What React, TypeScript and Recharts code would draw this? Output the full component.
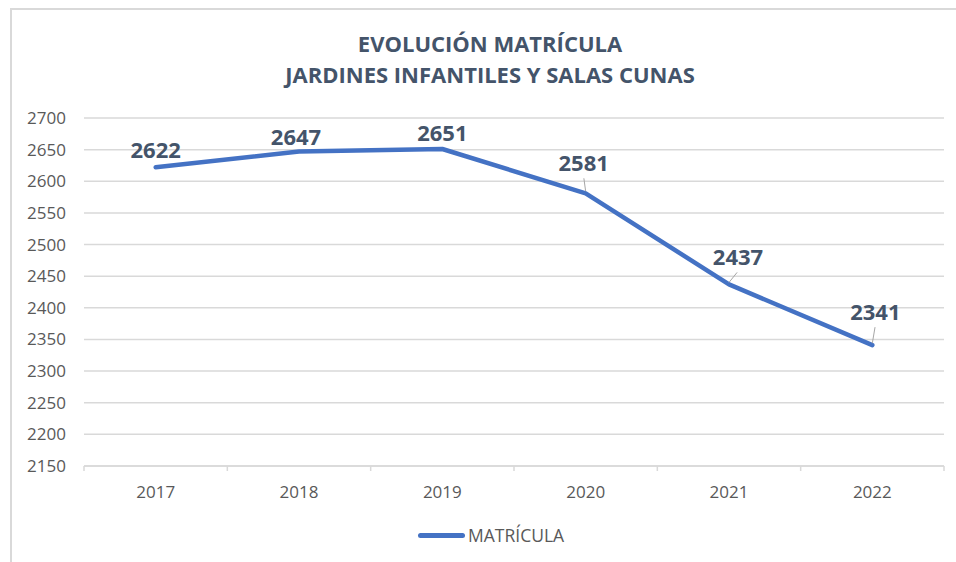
import { LineChart, Line, XAxis, YAxis, CartesianGrid, LabelList } from 'recharts';

// values
const years = ['2017', '2018', '2019', '2020', '2021', '2022'];
const matricula = [2622, 2647, 2651, 2581, 2437, 2341];
const yTicks = [2150, 2200, 2250, 2300, 2350, 2400, 2450, 2500, 2550, 2600, 2650, 2700];
const seriesName = 'MATRÍCULA';
const titleLines = ['EVOLUCIÓN MATRÍCULA', 'JARDINES INFANTILES Y SALAS CUNAS'];

const data = years.map((year, i) => ({ year, value: matricula[i] }));

// label placement tweaks (Excel moved some labels by hand)
const labelLift = [9, 7, 8, 22, 19, 25];
const labelShift = [0, -3, 0, -2, 9, 3];

const FONT = '"Open Sans", "Noto Sans", sans-serif';
const BLUE = '#4472c4';
const DARK = '#44546a';
const GREY = '#595959';
const RULE = '#d9d9d9';

const W = 956;
const H = 562;
const margin = { top: 118, right: 12, bottom: 66, left: 24 };
const Y_AXIS_W = 60;
const bandWidth = (W - margin.left - margin.right - Y_AXIS_W) / years.length;

function YearTick(props: any) {
  const { x, y, payload, index } = props;
  const half = bandWidth / 2;
  return (
    <g>
      <line x1={x - half} x2={x - half} y1={y} y2={y + 5} stroke={RULE} strokeWidth={1.5} />
      {index === years.length - 1 && (
        <line x1={x + half} x2={x + half} y1={y} y2={y + 5} stroke={RULE} strokeWidth={1.5} />
      )}
      <text x={x} y={y + 32} textAnchor="middle" fill={GREY} fontSize={17} fontFamily={FONT}>
        {payload.value}
      </text>
    </g>
  );
}

function ValueLabel(props: any) {
  const { x, y, value, index } = props;
  const lift = labelLift[index] ?? 10;
  const dx = labelShift[index] ?? 0;
  const base = y - lift;
  return (
    <g>
      {lift > 15 && (
        <line x1={x + dx * 0.9} y1={base + 7} x2={x} y2={y - 2} stroke="#a6a6a6" strokeWidth={1} />
      )}
      <text
        x={x + dx}
        y={base}
        textAnchor="middle"
        fill={DARK}
        fontSize={22}
        fontWeight={700}
        fontFamily={FONT}
      >
        {value}
      </text>
    </g>
  );
}

export default function App() {
  return (
    <div
      style={{
        position: 'absolute',
        left: 0,
        top: 0,
        width: W,
        height: H,
        overflow: 'hidden',
        background: '#fff',
        fontFamily: FONT,
      }}
    >
      <div
        style={{
          position: 'absolute',
          left: 10,
          top: 8,
          width: 980,
          height: 620,
          border: `2px solid ${RULE}`,
          boxSizing: 'border-box',
        }}
      />
      <div
        style={{
          position: 'absolute',
          left: 0,
          top: 28,
          width: 980,
          textAlign: 'center',
          color: DARK,
          fontSize: 22,
          fontWeight: 700,
          lineHeight: '31px',
        }}
      >
        {titleLines.map((t) => (
          <div key={t}>{t}</div>
        ))}
      </div>

      <div style={{ position: 'absolute', left: 0, top: 0 }}>
        <LineChart width={W} height={H} data={data} margin={margin}>
          <CartesianGrid vertical={false} stroke={RULE} strokeWidth={1.5} />
          <XAxis
            dataKey="year"
            height={30}
            padding={{ left: bandWidth / 2, right: bandWidth / 2 }}
            axisLine={{ stroke: RULE, strokeWidth: 1.5 }}
            tickLine={false}
            tickSize={0}
            tickMargin={0}
            tick={<YearTick />}
            interval={0}
          />
          <YAxis
            width={Y_AXIS_W}
            domain={[2150, 2700]}
            ticks={yTicks}
            axisLine={false}
            tickLine={false}
            tickMargin={12}
            tick={{ fill: GREY, fontSize: 17, fontFamily: FONT }}
          />
          <Line
            type="linear"
            dataKey="value"
            name={seriesName}
            stroke={BLUE}
            strokeWidth={4.5}
            strokeLinecap="round"
            strokeLinejoin="round"
            dot={false}
            activeDot={false}
            isAnimationActive={false}
          >
            <LabelList dataKey="value" content={<ValueLabel />} />
          </Line>
        </LineChart>
      </div>

      <div
        style={{
          position: 'absolute',
          left: 418,
          top: 523,
          height: 24,
          display: 'flex',
          alignItems: 'center',
          color: GREY,
          fontSize: 17.5,
        }}
      >
        <span
          style={{
            display: 'inline-block',
            width: 47,
            height: 5,
            borderRadius: 3,
            background: BLUE,
            marginRight: 3,
          }}
        />
        <span>{seriesName}</span>
      </div>
    </div>
  );
}
